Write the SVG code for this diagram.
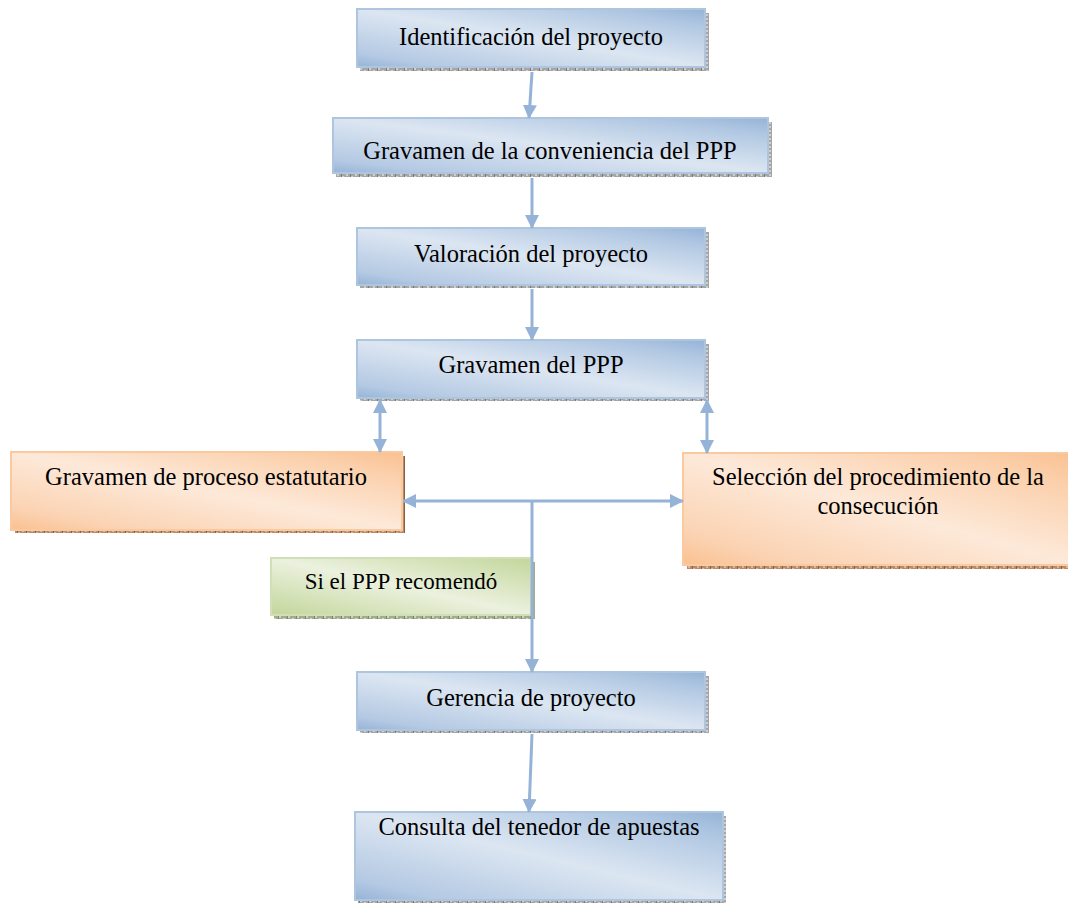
<svg xmlns="http://www.w3.org/2000/svg" width="1068" height="903" viewBox="0 0 1068 903">
<style>
.t{font-family:"Liberation Serif","Times New Roman",serif;font-size:24.5px;fill:#000;text-anchor:middle}
.ts{font-size:23px}
.blue{fill:url(#gBlue);stroke:#aec5e0;stroke-width:2}
.orange{fill:url(#gOrange);stroke:#f9c9a0;stroke-width:2}
.green{fill:url(#gGreen);stroke:#d1e0b4;stroke-width:2}
.sh{fill:url(#hatch)}
.sho{fill:url(#hatchO)}
.shg{fill:url(#hatchG)}
.c{stroke:#95b3d7;stroke-width:3;fill:none}
</style>
<defs>
<linearGradient id="gBlue" x1="0" y1="1" x2="1" y2="0">
<stop offset="0" stop-color="#95b3d7"/><stop offset="0.12" stop-color="#b4c9e3"/><stop offset="0.5" stop-color="#dce6f2"/><stop offset="0.85" stop-color="#b0c7e2"/><stop offset="1" stop-color="#95b3d7"/>
</linearGradient>
<linearGradient id="gOrange" x1="0" y1="1" x2="1" y2="0">
<stop offset="0" stop-color="#fac090"/><stop offset="0.15" stop-color="#fbd3b3"/><stop offset="0.5" stop-color="#fde9d9"/><stop offset="0.85" stop-color="#fbcfaa"/><stop offset="1" stop-color="#fac090"/>
</linearGradient>
<linearGradient id="gGreen" x1="0" y1="1" x2="1" y2="0">
<stop offset="0" stop-color="#c3d69b"/><stop offset="0.5" stop-color="#ebf1de"/><stop offset="1" stop-color="#c3d69b"/>
</linearGradient>
<pattern id="hatch" width="9" height="4" patternUnits="userSpaceOnUse">
<rect width="9" height="4" fill="#a6a6a6"/><rect x="0" y="0" width="2" height="2" fill="#cfcfcf"/><rect x="4" y="2" width="2" height="2" fill="#cfcfcf"/><rect x="8" y="0" width="1" height="4" fill="#7a7a7a"/>
</pattern>
<pattern id="hatchO" width="9" height="4" patternUnits="userSpaceOnUse">
<rect width="9" height="4" fill="#b98b68"/><rect x="0" y="0" width="2" height="2" fill="#d9b79a"/><rect x="4" y="2" width="2" height="2" fill="#d9b79a"/><rect x="8" y="0" width="1" height="4" fill="#8a5e3e"/>
</pattern>
<pattern id="hatchG" width="9" height="4" patternUnits="userSpaceOnUse">
<rect width="9" height="4" fill="#a3ab8f"/><rect x="0" y="0" width="2" height="2" fill="#cdd3bd"/><rect x="4" y="2" width="2" height="2" fill="#cdd3bd"/><rect x="8" y="0" width="1" height="4" fill="#7b8468"/>
</pattern>
<marker id="ah" viewBox="0 0 14 14" markerWidth="14" markerHeight="14" refX="13" refY="7" markerUnits="userSpaceOnUse" orient="auto-start-reverse">
<path d="M0,0 L14,7 L0,14 z" fill="#95b3d7"/>
</marker>
</defs>

<g id="n1">
<rect class="sh" x="360" y="13" width="349" height="58"/>
<rect class="blue" x="357" y="9" width="348" height="58"/>
<text class="t" x="531" y="45">Identificación del proyecto</text>
</g>
<g id="n2">
<rect class="sh" x="336" y="122" width="436" height="55"/>
<rect class="blue" x="333" y="118" width="435" height="55"/>
<text class="t" x="550" y="159">Gravamen de la conveniencia del PPP</text>
</g>
<g id="n3">
<rect class="sh" x="360" y="232" width="349" height="56"/>
<rect class="blue" x="357" y="228" width="348" height="57"/>
<text class="t" x="531" y="262">Valoración del proyecto</text>
</g>
<g id="n4">
<rect class="sh" x="360" y="344" width="349" height="57"/>
<rect class="blue" x="357" y="340" width="348" height="58"/>
<text class="t" x="531" y="373">Gravamen del PPP</text>
</g>
<g id="n5">
<rect class="sho" x="15" y="456" width="390" height="77"/>
<rect class="orange" x="11" y="452" width="391" height="78"/>
<text class="t" x="206" y="485">Gravamen de proceso estatutario</text>
</g>
<g id="n6">
<rect class="sho" x="687" y="457" width="390" height="112"/>
<rect class="orange" x="683" y="453" width="395" height="112"/>
<text class="t" x="878" y="485">Selección del procedimiento de la</text>
<text class="t" x="878" y="514">consecución</text>
</g>
<g id="n7">
<rect class="shg" x="274" y="562" width="261" height="57"/>
<rect class="green" x="271" y="558" width="260" height="57"/>
<text class="t ts" x="401" y="589">Si el PPP recomendó</text>
</g>
<g id="n8">
<rect class="sh" x="360" y="676" width="349" height="57"/>
<rect class="blue" x="357" y="672" width="348" height="58"/>
<text class="t" x="531" y="706">Gerencia de proyecto</text>
</g>
<g id="n9">
<rect class="sh" x="358" y="816" width="368" height="88"/>
<rect class="blue" x="355" y="812" width="368" height="88"/>
<text class="t" x="539" y="835">Consulta del tenedor de apuestas</text>
</g>

<g id="connectors">
<line class="c" x1="532" y1="72" x2="529" y2="118" marker-end="url(#ah)"/>
<line class="c" x1="532" y1="178" x2="532" y2="228" marker-end="url(#ah)"/>
<line class="c" x1="532" y1="289" x2="532" y2="340" marker-end="url(#ah)"/>
<line class="c" x1="380" y1="400" x2="380" y2="452" marker-start="url(#ah)" marker-end="url(#ah)"/>
<line class="c" x1="707" y1="400" x2="707" y2="453" marker-start="url(#ah)" marker-end="url(#ah)"/>
<line class="c" x1="403" y1="501" x2="683" y2="501" marker-start="url(#ah)" marker-end="url(#ah)"/>
<line class="c" x1="532" y1="501" x2="532" y2="672" marker-end="url(#ah)"/>
<line class="c" x1="532" y1="734" x2="529" y2="812" marker-end="url(#ah)"/>
</g>
</svg>
